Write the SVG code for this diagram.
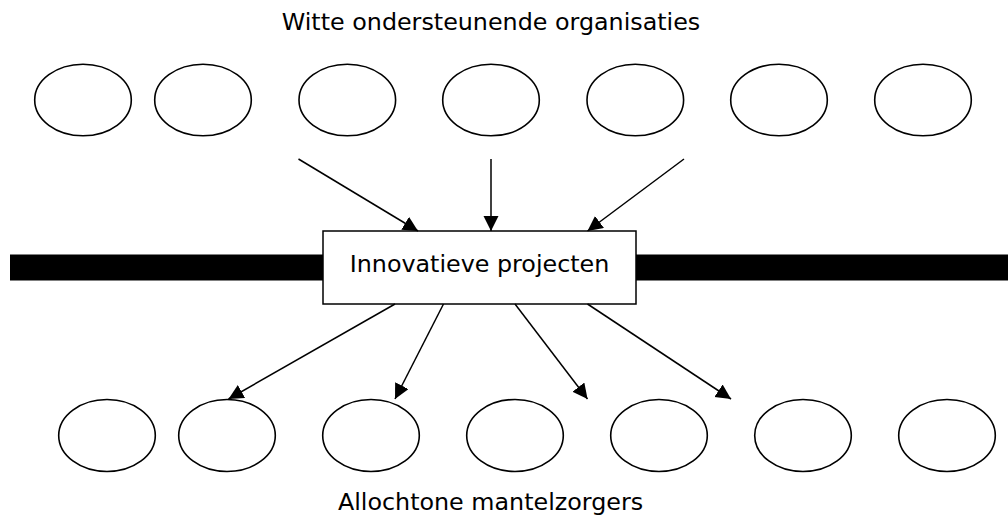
<svg xmlns="http://www.w3.org/2000/svg" width="1008" height="516" viewBox="0 0 1008 516">
<style>
  .node ellipse { fill: #ffffff; stroke: #000000; stroke-width: 1.6; }
  .lbl { font-family: "DejaVu Sans", Verdana, sans-serif; font-size: 23.8px; fill: #000000; text-anchor: middle; }
  .conn line { stroke: #000000; stroke-width: 1.5; marker-end: url(#arrow); }
</style>
<defs>
  <marker id="arrow" markerUnits="userSpaceOnUse" markerWidth="16" markerHeight="16" refX="15" refY="7.5" orient="auto">
    <path d="M0,0 L15,7.5 L0,15 z" fill="#000000"/>
  </marker>
</defs>
<rect x="0" y="0" width="1008" height="516" fill="#ffffff"/>
<text class="lbl" x="491" y="30">Witte ondersteunende organisaties</text>
<g id="top-nodes">
  <g id="t1" class="node"><ellipse cx="83" cy="100" rx="48.3" ry="35.8"/></g>
  <g id="t2" class="node"><ellipse cx="203" cy="100" rx="48.3" ry="35.8"/></g>
  <g id="t3" class="node"><ellipse cx="347.3" cy="100" rx="48.3" ry="35.8"/></g>
  <g id="t4" class="node"><ellipse cx="491" cy="100" rx="48.3" ry="35.8"/></g>
  <g id="t5" class="node"><ellipse cx="635.3" cy="100" rx="48.3" ry="35.8"/></g>
  <g id="t6" class="node"><ellipse cx="779" cy="100" rx="48.3" ry="35.8"/></g>
  <g id="t7" class="node"><ellipse cx="923" cy="100" rx="48.3" ry="35.8"/></g>
</g>
<rect id="bar" x="10" y="254.5" width="998" height="26" fill="#000000"/>
<g id="center">
  <rect x="323" y="231" width="313" height="73" fill="#ffffff" stroke="#000000" stroke-width="1.5"/>
  <text class="lbl" x="479.5" y="271.5">Innovatieve projecten</text>
</g>
<g id="bottom-nodes">
  <g id="b1" class="node"><ellipse cx="107" cy="435.5" rx="48.3" ry="36"/></g>
  <g id="b2" class="node"><ellipse cx="227" cy="435.5" rx="48.3" ry="36"/></g>
  <g id="b3" class="node"><ellipse cx="371" cy="435.5" rx="48.3" ry="36"/></g>
  <g id="b4" class="node"><ellipse cx="515" cy="435.5" rx="48.3" ry="36"/></g>
  <g id="b5" class="node"><ellipse cx="659" cy="435.5" rx="48.3" ry="36"/></g>
  <g id="b6" class="node"><ellipse cx="803" cy="435.5" rx="48.3" ry="36"/></g>
  <g id="b7" class="node"><ellipse cx="947" cy="435.5" rx="48.3" ry="36"/></g>
</g>
<text class="lbl" x="490.5" y="510">Allochtone mantelzorgers</text>
<g id="connectors" class="conn">
  <line x1="298.5" y1="159" x2="418" y2="231"/>
  <line x1="491" y1="159" x2="491" y2="231"/>
  <line x1="684" y1="159" x2="587.5" y2="231"/>
  <line x1="395" y1="304" x2="228.5" y2="399"/>
  <line x1="443.5" y1="304" x2="395" y2="399"/>
  <line x1="515" y1="304" x2="587.5" y2="399"/>
  <line x1="587.5" y1="304" x2="731" y2="399"/>
</g>
</svg>
